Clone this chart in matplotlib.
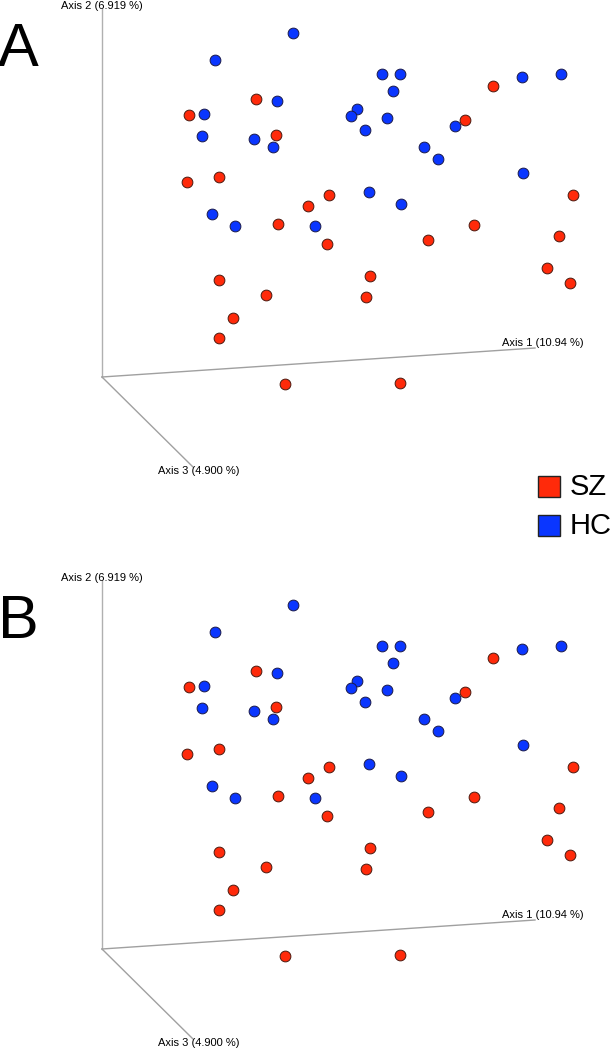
import matplotlib
matplotlib.use("Agg")
import matplotlib.pyplot as plt
from matplotlib.patches import Rectangle

plt.rcParams['font.family'] = ['Liberation Sans', 'DejaVu Sans']

# projected PCoA positions (screen units of panel A)
sz_x = [256, 189, 276, 187, 219, 493, 465, 329, 573, 278, 308, 327, 474,
        428, 559, 370, 366, 547, 570, 219, 266, 233, 219, 285, 400]
sz_y = [99, 115, 135, 182, 177, 86, 120, 195, 195, 224, 206, 244, 225,
        240, 236, 276, 297, 268, 283, 280, 295, 318, 338, 384, 383]
hc_x = [293, 215, 277, 204, 202, 254, 273, 382, 400, 393, 522, 561, 357,
        351, 387, 365, 455, 424, 438, 523, 369, 401, 212, 235, 315]
hc_y = [33, 60, 101, 114, 136, 139, 147, 74, 74, 91, 77, 74, 109,
        116, 118, 130, 126, 147, 159, 173, 192, 204, 214, 226, 226]

axis_labels = ["Axis 1 (10.94 %)", "Axis 2 (6.919 %)", "Axis 3 (4.900 %)"]
groups = ["SZ", "HC"]
colors = {"SZ": "#ff2a0a", "HC": "#0a36ff"}
panels = ["A", "B"]
panel_offset = [0, 572]

fig = plt.figure(figsize=(6.10, 10.50), dpi=100)
ax = fig.add_axes([0, 0, 1, 1])
ax.set_xlim(0, 610)
ax.set_ylim(1050, 0)
ax.axis("off")

origin = (102, 377)
for name, dy in zip(panels, panel_offset):
    ox, oy = origin[0], origin[1] + dy
    # axes of the 3d view
    ax.plot([ox, ox], [oy, 9 + dy], color="#b0b0b0", lw=1, zorder=1)
    ax.plot([ox, 535], [oy, 348 + dy], color="#a0a0a0", lw=1, zorder=1)
    ax.plot([ox, 193], [oy, 467 + dy], color="#a0a0a0", lw=1, zorder=1)
    ax.text(102, 6 + dy, axis_labels[1], fontsize=8, ha="center", va="center")
    ax.text(543, 343 + dy, axis_labels[0], fontsize=8, ha="center", va="center")
    ax.text(199, 471 + dy, axis_labels[2], fontsize=8, ha="center", va="center")
    ax.text(-2, 51 + dy, name, fontsize=44, ha="left", va="center")

    ax.scatter(hc_x, [y + dy for y in hc_y], s=60, c=colors["HC"],
               edgecolors="#1a1a4a", linewidths=0.7, zorder=3)
    ax.scatter(sz_x, [y + dy for y in sz_y], s=60, c=colors["SZ"],
               edgecolors="#4a1a10", linewidths=0.7, zorder=3)

# legend
for i, g in enumerate(groups):
    y0 = 476 + i * 39
    ax.add_patch(Rectangle((538, y0), 22, 21, facecolor=colors[g],
                           edgecolor="#222222", lw=1))
    ax.text(570, y0 + 11, g, fontsize=21, ha="left", va="center")

fig.savefig("out.png", dpi=100)
